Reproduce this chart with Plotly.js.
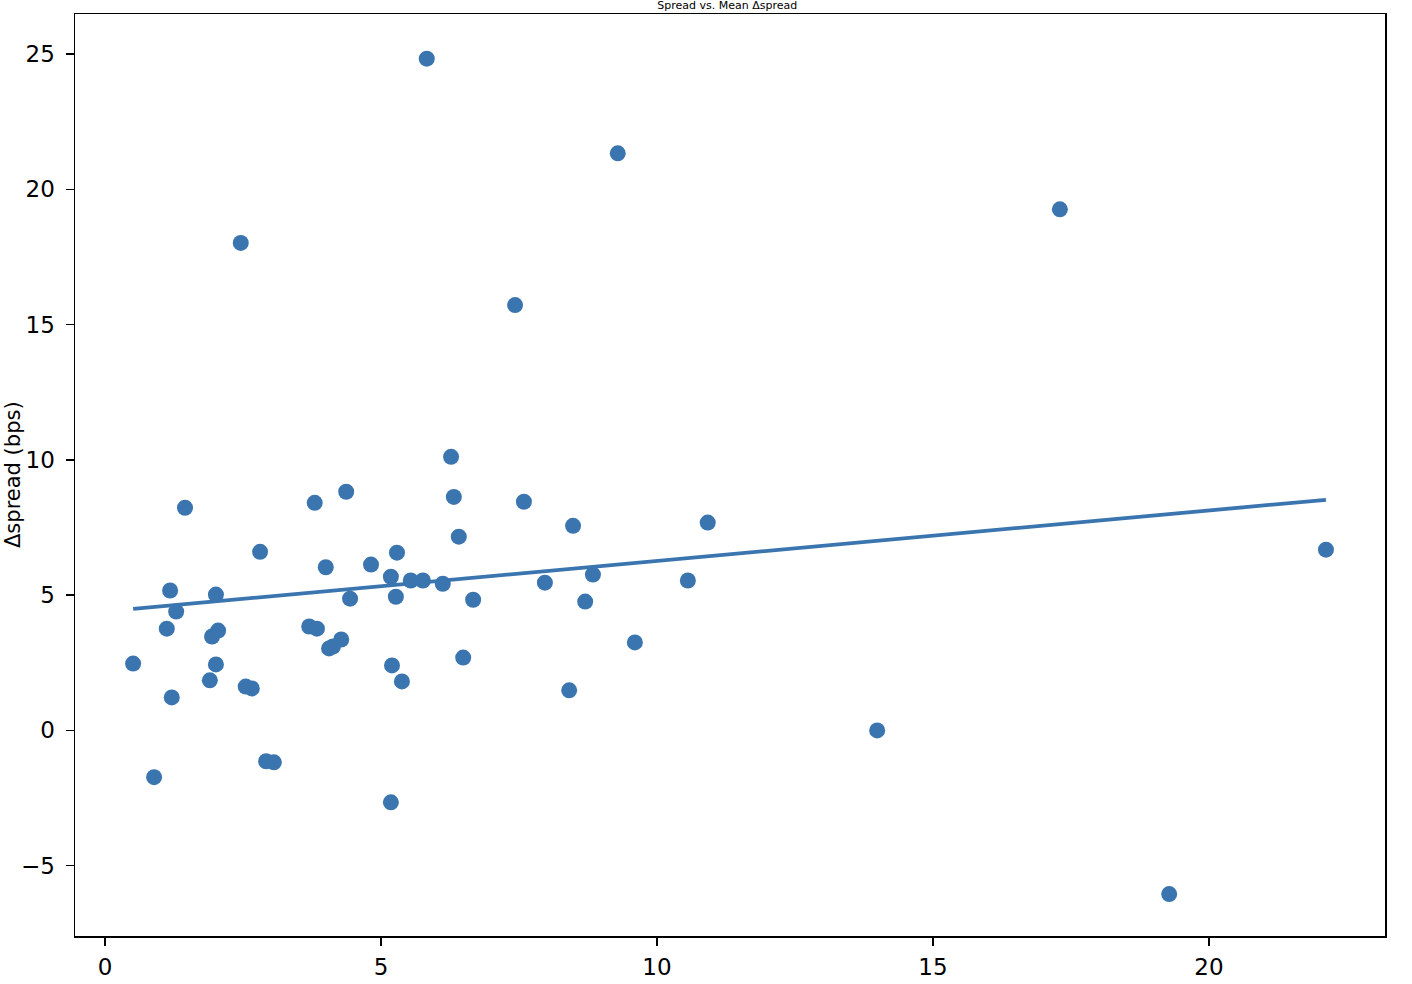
<!DOCTYPE html>
<html>
<head>
<meta charset="utf-8">
<script src="https://cdn.plot.ly/plotly-3.0.1.min.js"></script>
<style>html,body{margin:0;padding:0;background:#fff;}#chart{width:1412px;height:984px;}</style>
</head>
<body>
<div id="chart"></div>
<script>
const spreadLevel = [0.51,0.89,1.12,1.18,1.21,1.29,1.45,1.90,1.94,2.01,2.01,2.05,2.46,2.55,2.66,2.81,2.92,3.06,3.70,3.80,3.84,4.00,4.06,4.13,4.28,4.37,4.44,4.82,5.18,5.20,5.18,5.27,5.29,5.38,5.54,5.76,5.83,6.12,6.27,6.32,6.41,6.49,6.67,7.43,7.59,7.97,8.41,8.48,8.70,8.84,9.29,9.60,10.56,10.92,13.99,17.30,19.28,22.12];
const deltaSpread = [2.47,-1.73,3.76,5.17,1.22,4.39,8.23,1.85,3.47,5.02,2.44,3.69,18.02,1.62,1.55,6.60,-1.14,-1.18,3.84,8.41,3.76,6.03,3.03,3.10,3.36,8.82,4.87,6.13,5.68,2.40,-2.66,4.94,6.57,1.81,5.54,5.54,24.83,5.42,10.11,8.63,7.16,2.69,4.83,15.72,8.45,5.46,1.48,7.56,4.76,5.76,21.33,3.25,5.54,7.68,0.00,19.26,-6.05,6.68];
const xTicks = [0,5,10,15,20];
const yTicks = [-5,0,5,10,15,20,25];
const titleText = "Spread vs. Mean Δspread";
const yLabel = "Δspread (bps)";

// ordinary least squares fit
const n = spreadLevel.length;
const mx = spreadLevel.reduce((a,b)=>a+b,0)/n;
const my = deltaSpread.reduce((a,b)=>a+b,0)/n;
let sxy=0, sxx=0;
for(let i=0;i<n;i++){sxy+=(spreadLevel[i]-mx)*(deltaSpread[i]-my);sxx+=(spreadLevel[i]-mx)**2;}
const slope = sxy/sxx, intercept = my - slope*mx;
const fx = [Math.min(...spreadLevel), Math.max(...spreadLevel)];
const fy = fx.map(v=>intercept+slope*v);

const blue = '#3b75af';
const font = {family:'DejaVu Sans, sans-serif', size:23, color:'#000'};
const traces = [
  {x:spreadLevel, y:deltaSpread, type:'scatter', mode:'markers', marker:{color:blue, size:16}, hoverinfo:'x+y'},
  {x:fx, y:fy, type:'scatter', mode:'lines', line:{color:blue, width:3.8}}
];
const axisBase = {showline:true, linecolor:'#000', linewidth:1.5, mirror:true, ticks:'outside', ticklen:8, tickwidth:1.5, tickcolor:'#000', showgrid:false, zeroline:false, tickfont:font};
const plotW = 1412 - 75 - 27;
const layout = {
  width:1412, height:984,
  margin:{l:75, r:27, t:14, b:48},
  paper_bgcolor:'#fff', plot_bgcolor:'#fff',
  showlegend:false,
  font:font,
  title:{text:titleText, font:{family:'DejaVu Sans, sans-serif', size:11, color:'#000'}, x:0.515, xanchor:'center', yref:'container', y:1-1/984, yanchor:'top'},
  xaxis:Object.assign({}, axisBase, {range:[-0.543, 23.19], tickvals:xTicks, ticklabelstandoff:2}),
  yaxis:Object.assign({}, axisBase, {range:[-7.6, 26.48], tickvals:yTicks, ticklabelstandoff:6}),
  annotations:[{text:yLabel, textangle:-90, xref:'paper', yref:'paper', x:-(75-13)/plotW, y:0.5, xanchor:'center', yanchor:'middle', showarrow:false, font:{family:'DejaVu Sans, sans-serif', size:21, color:'#000'}}]
};
Plotly.newPlot('chart', traces, layout, {displayModeBar:false, staticPlot:true});
</script>
</body>
</html>
